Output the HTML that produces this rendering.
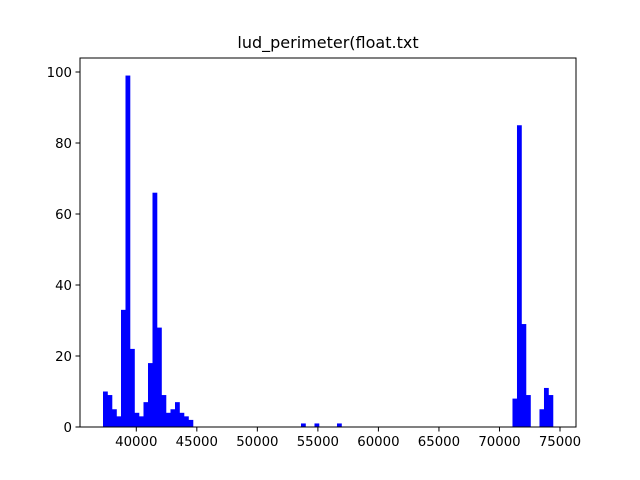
<!DOCTYPE html>
<html><head><meta charset="utf-8"><style>
body{margin:0;background:#fff;}
svg{display:block;font-family:"DejaVu Sans","Liberation Sans",sans-serif;}
</style></head><body>
<svg id="chart" width="640" height="480" viewBox="0 0 640 480">
<text x="328" y="48" font-size="16" text-anchor="middle">lud_perimeter(float.txt</text>
<g id="bars"></g>
<rect x="80" y="58" width="496" height="369" fill="none" stroke="#000" stroke-width="1"/>
<g id="axes"></g>
</svg>
<script>
const binMin = 37249;
const binMax = 74419;
const counts = [10,9,5,3,33,99,22,4,3,7,18,66,28,9,4,5,7,4,3,2,
0,0,0,0,0,0,0,0,0,0,0,0,0,0,0,0,0,0,0,0,
0,0,0,0,1,0,0,1,0,0,0,0,1,0,0,0,0,0,0,0,
0,0,0,0,0,0,0,0,0,0,0,0,0,0,0,0,0,0,0,0,
0,0,0,0,0,0,0,0,0,0,0,8,85,29,9,0,0,5,11,9];
const xTicks = [40000,45000,50000,55000,60000,65000,70000,75000];
const yTicks = [0,20,40,60,80,100];

const NS="http://www.w3.org/2000/svg";
function X(v){return 136.3+(v-40000)*0.012106;}
function Y(v){return 427-v*3.55;}
const bars=document.getElementById('bars');
const w=(binMax-binMin)/counts.length;
counts.forEach((c,i)=>{
  if(c<=0)return;
  const r=document.createElementNS(NS,'rect');
  const x0=X(binMin+i*w), x1=X(binMin+(i+1)*w);
  r.setAttribute('x',x0);r.setAttribute('width',x1-x0+0.3);
  r.setAttribute('y',Y(c));r.setAttribute('height',427-Y(c));
  r.setAttribute('fill','#0000ff');
  
  
  bars.appendChild(r);
});
const axes=document.getElementById('axes');
xTicks.forEach(t=>{
  const l=document.createElementNS(NS,'line');
  l.setAttribute('x1',X(t));l.setAttribute('x2',X(t));l.setAttribute('y1',427);l.setAttribute('y2',431.5);l.setAttribute('stroke','#000');
  
  
  axes.appendChild(l);
  const tx=document.createElementNS(NS,'text');
  tx.setAttribute('x',X(t));tx.setAttribute('y',446);tx.setAttribute('font-size','13.3');tx.setAttribute('text-anchor','middle');
  tx.textContent=t;
  
  
  axes.appendChild(tx);
});
yTicks.forEach(t=>{
  const l=document.createElementNS(NS,'line');
  l.setAttribute('x1',75.5);l.setAttribute('x2',80);l.setAttribute('y1',Y(t));l.setAttribute('y2',Y(t));l.setAttribute('stroke','#000');
  
  
  axes.appendChild(l);
  const tx=document.createElementNS(NS,'text');
  tx.setAttribute('x',72);tx.setAttribute('y',Y(t)+5);tx.setAttribute('font-size','13.3');tx.setAttribute('text-anchor','end');
  tx.textContent=t;
  
  
  axes.appendChild(tx);
});
</script>
</body></html>
